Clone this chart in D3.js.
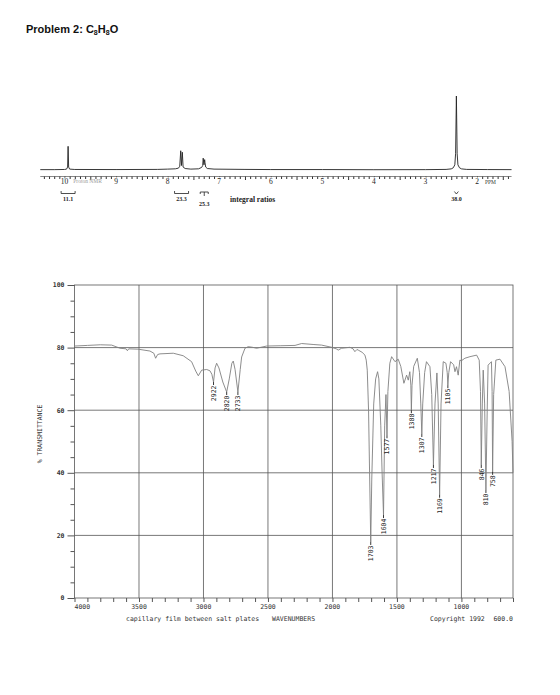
<!DOCTYPE html>
<html>
<head>
<meta charset="utf-8">
<script src="https://cdn.jsdelivr.net/npm/d3@7"></script>
<style>
  body { margin: 0; background: #fff; }
  svg { display: block; }
</style>
</head>
<body>
<svg id="chart" width="560" height="695"></svg>
<script>
// ---- proton NMR trace: [ppm, relative intensity] ----
const nmrTrace = [
  [10.47, 0.5], [10.2, 0.5], [10.0, 0.7], [9.96, 1.2], [9.94, 4], [9.93, 32], [9.92, 4], [9.90, 1.2],
  [9.8, 0.7], [9.0, 0.6], [8.2, 0.8], [8.0, 1.2], [7.85, 1.6], [7.79, 2.5], [7.765, 5],
  [7.746, 26], [7.732, 6], [7.715, 24], [7.70, 4], [7.66, 2], [7.55, 1.2], [7.40, 1.6],
  [7.34, 3.5], [7.32, 6], [7.31, 16], [7.295, 7], [7.282, 14], [7.275, 10], [7.262, 4],
  [7.23, 2], [7.1, 1.2], [6.5, 0.8], [6.0, 0.6], [5.0, 0.6], [4.0, 0.4], [3.0, 0.5],
  [2.6, 0.8], [2.50, 1.5], [2.46, 3], [2.43, 7], [2.415, 22], [2.40, 100], [2.385, 22],
  [2.37, 7], [2.34, 3], [2.30, 1.5], [2.2, 0.8], [1.8, 0.6], [1.33, 0.5]
];
const nmrTickLabels = [10, 9, 8, 7, 6, 5, 4, 3, 2];
// integral ratios: [ppm, text, bracket style]
const integrals = [
  [9.93, "11.1", "cup"],
  [7.73, "23.3", "cup"],
  [7.29, "25.3", "tee"],
  [2.40, "38.0", "vee"]
];

// ---- IR trace: [wavenumber, % transmittance] ----
const irTrace = [
  [4000, 80.5], [3900, 80.7], [3800, 80.9], [3712, 80.8], [3647, 79.8], [3600, 79.6],
  [3590, 79.0], [3580, 79.6], [3508, 79.5], [3415, 78.9], [3385, 78.2], [3371, 76.6],
  [3355, 77.8], [3337, 78.0], [3234, 78.2], [3157, 77.4], [3092, 75.5], [3060, 72.5],
  [3040, 71.0], [3014, 72.8], [2975, 73.0], [2950, 72.6], [2935, 71.5], [2922, 69.0],
  [2910, 73.5], [2898, 75.0], [2880, 73.5], [2850, 69], [2820, 65.8], [2800, 70],
  [2780, 75], [2769, 75.7], [2755, 73], [2733, 65.8], [2715, 73], [2704, 77],
  [2678, 79.8], [2653, 80.3], [2620, 80.1], [2588, 79.8], [2510, 80.5], [2400, 80.6],
  [2290, 80.7], [2239, 81.3], [2150, 81.0], [2084, 80.8], [2006, 80.1], [1970, 79.6],
  [1955, 79.2], [1929, 79.8], [1864, 80.1], [1840, 79.6], [1826, 78.7], [1810, 79.4],
  [1800, 79.2], [1770, 78.5], [1748, 77.6], [1738, 76], [1730, 72.8], [1720, 60],
  [1712, 40], [1703, 17.9], [1695, 38], [1680, 62], [1665, 70], [1650, 72.3],
  [1640, 70], [1625, 55], [1615, 40], [1604, 26.5], [1595, 55], [1585, 65], [1577, 52],
  [1570, 66], [1555, 75], [1541, 77.1], [1515, 75.5], [1490, 76.3], [1470, 74],
  [1446, 68.6], [1425, 71.2], [1412, 69.6], [1400, 72.3], [1392, 68], [1388, 60],
  [1383, 68], [1370, 74], [1342, 76.6], [1325, 72], [1315, 62], [1307, 52.4], [1300, 62],
  [1285, 72], [1271, 75.5], [1244, 73.9], [1230, 65], [1217, 42.5], [1205, 62],
  [1190, 71.9], [1180, 62], [1169, 33], [1158, 62], [1141, 75.5], [1120, 75], [1110, 72],
  [1105, 68], [1098, 72], [1084, 75.5], [1060, 74.5], [1050, 72.3], [1038, 73.9],
  [1025, 71.2], [1012, 76], [1000, 75.8], [973, 76.6], [934, 77.1], [882, 77.6],
  [862, 76], [852, 66], [846, 42.5], [838, 62], [831, 72.8], [820, 62], [810, 34.5],
  [800, 60], [793, 74.4], [767, 75.5], [762, 66], [758, 40.3], [750, 65], [733, 76],
  [701, 76.3], [662, 73.9], [630, 66], [607, 50], [600, 40]
];
// labelled peaks: [wavenumber, % transmittance at the tip]
const irPeaks = [
  [2922, 69.0], [2820, 65.8], [2733, 65.8], [1703, 17.9], [1604, 26.5], [1577, 52],
  [1388, 60], [1307, 52.4], [1217, 42.5], [1169, 33], [1105, 68], [846, 42.5],
  [810, 34.5], [758, 40.3]
];
const irXLabels = [4000, 3500, 3000, 2500, 2000, 1500, 1000];
const irGridX = [3500, 3000, 2500, 2000, 1500, 1000];
const irYLabels = [0, 20, 40, 60, 80, 100];

const svg = d3.select("#chart");
svg.append("rect").attr("width", 560).attr("height", 695).attr("fill", "#fff");

// ---- title ----
const title = svg.append("text")
  .attr("x", 26).attr("y", 33)
  .attr("font-family", "Liberation Sans, Arial, sans-serif")
  .attr("font-weight", "bold").attr("font-size", 11).attr("fill", "#111");
title.append("tspan").text("Problem 2: C");
title.append("tspan").attr("font-size", 7).attr("dy", 2).text("8");
title.append("tspan").attr("dy", -2).text("H");
title.append("tspan").attr("font-size", 7).attr("dy", 2).text("8");
title.append("tspan").attr("dy", -2).text("O");

// ---- NMR ----
const xN = d3.scaleLinear().domain([10, 2]).range([64.5, 477]);
const yN = d3.scaleLinear().domain([0, 100]).range([170, 96]);
const axisY = 176.5;

svg.append("path")
  .datum(nmrTrace)
  .attr("d", d3.line().x(d => xN(d[0])).y(d => yN(d[1])))
  .attr("fill", "none").attr("stroke", "#222").attr("stroke-width", 0.9);

const nmrAxis = d3.axisBottom(xN)
  .tickValues(d3.range(104, 13, -1).map(v => v / 10))
  .tickSize(2.5)
  .tickFormat("");
const gN = svg.append("g").attr("transform", `translate(0,${axisY})`).call(nmrAxis);
gN.select(".domain").attr("d", `M${xN(10.47)},0H${xN(1.33)}`).attr("stroke", "#555").attr("stroke-width", 0.7);
gN.selectAll(".tick line").attr("stroke", "#333").attr("y2", d => (Math.round(d * 10) % 5 === 0 ? 3.5 : 2.5));

svg.append("g").selectAll("text")
  .data(nmrTickLabels)
  .enter().append("text")
  .attr("x", d => xN(d)).attr("y", axisY + 7.5)
  .attr("text-anchor", "middle")
  .attr("font-family", "Liberation Serif, serif").attr("font-size", 7.5).attr("fill", "#222")
  .attr("stroke", "#fff").attr("stroke-width", 1.5).attr("paint-order", "stroke")
  .text(d => d);
svg.append("text").attr("x", xN(2) + 8).attr("y", axisY + 7)
  .attr("font-family", "Liberation Serif, serif").attr("font-size", 5.5).attr("fill", "#333")
  .text("PPM");
svg.append("text").attr("x", xN(9.83)).attr("y", axisY + 6)
  .attr("font-family", "Liberation Serif, serif").attr("font-size", 5.5).attr("fill", "#999")
  .text("Proton NMR");

const integ = svg.append("g")
  .attr("font-family", "Liberation Serif, serif").attr("font-weight", "bold")
  .attr("font-size", 6).attr("fill", "#222").attr("text-anchor", "middle");
integrals.forEach(([ppm, txt, style]) => {
  const cx = xN(ppm);
  let d, ty = 201;
  if (style === "cup") d = `M${cx - 7},191V193.5H${cx + 7}V191`;
  else if (style === "tee") { d = `M${cx - 4},194V192H${cx + 4}V194M${cx},192V196`; ty = 206; }
  else d = `M${cx - 2},191.5L${cx},194L${cx + 2},191.5`;
  integ.append("path").attr("d", d).attr("fill", "none").attr("stroke", "#222").attr("stroke-width", 0.8);
  integ.append("text").attr("x", cx).attr("y", ty).text(txt);
});
svg.append("text").attr("x", 230).attr("y", 202)
  .attr("font-family", "Liberation Serif, serif").attr("font-weight", "bold")
  .attr("font-size", 7.5).attr("fill", "#222")
  .text("integral ratios");

// ---- IR ----
const x = d3.scaleLinear().domain([4000, 600]).range([74.5, 513]);
const y = d3.scaleLinear().domain([0, 100]).range([598, 285]);
const mono = "DejaVu Sans Mono, monospace";

const grid = svg.append("g").attr("stroke", "#555").attr("stroke-width", 0.8);
grid.selectAll(".gx").data(irGridX).enter().append("line")
  .attr("x1", d => x(d)).attr("x2", d => x(d)).attr("y1", y(100)).attr("y2", y(0));
grid.selectAll(".gy").data([20, 40, 60, 80]).enter().append("line")
  .attr("x1", x(4000)).attr("x2", x(600)).attr("y1", d => y(d)).attr("y2", d => y(d));
svg.append("rect")
  .attr("x", x(4000)).attr("y", y(100))
  .attr("width", x(600) - x(4000)).attr("height", y(0) - y(100))
  .attr("fill", "none").attr("stroke", "#555").attr("stroke-width", 0.8);

const xAxis = d3.axisBottom(x).tickValues(d3.range(4000, 599, -100)).tickSize(4).tickFormat("");
const gx = svg.append("g").attr("transform", `translate(0,${y(0)})`).call(xAxis);
gx.select(".domain").remove();
gx.selectAll(".tick line").attr("stroke", "#555");

const yAxis = d3.axisLeft(y).tickValues(d3.range(0, 101, 5)).tickSize(4).tickFormat("");
const gy = svg.append("g").attr("transform", `translate(${x(4000)},0)`).call(yAxis);
gy.select(".domain").remove();
gy.selectAll(".tick line").attr("stroke", "#555")
  .attr("x2", d => (d % 20 === 0 ? -7 : -4));

svg.append("g").selectAll("text").data(irYLabels).enter().append("text")
  .attr("x", 64.5).attr("y", d => y(d) + 2.3)
  .attr("text-anchor", "end").attr("font-family", mono).attr("font-size", 6.5)
  .attr("font-weight", "bold").attr("fill", "#333")
  .text(d => d);

svg.append("g").selectAll("text").data(irXLabels).enter().append("text")
  .attr("x", d => x(d))
  .attr("y", 609)
  .attr("text-anchor", d => (d === 4000 ? "start" : "middle"))
  .attr("font-family", mono).attr("font-size", 6.5).attr("fill", "#333")
  .text(d => d);

svg.append("text").attr("transform", "translate(42,434) rotate(-90)")
  .attr("text-anchor", "middle").attr("font-family", mono).attr("font-size", 6.5).attr("fill", "#333")
  .text("% TRANSMITTANCE");

const foot = svg.append("g").attr("font-family", mono).attr("font-size", 6.5).attr("fill", "#333");
foot.append("text").attr("x", 126).attr("y", 621).text("capillary film between salt plates");
foot.append("text").attr("x", 272).attr("y", 621).text("WAVENUMBERS");
foot.append("text").attr("x", 430).attr("y", 621).text("Copyright 1992");
foot.append("text").attr("x", 513).attr("y", 621).attr("text-anchor", "end").text("600.0");

svg.append("path")
  .datum(irTrace)
  .attr("d", d3.line().x(d => x(d[0])).y(d => y(d[1])))
  .attr("fill", "none").attr("stroke", "#808080").attr("stroke-width", 0.9);

const pk = svg.append("g");
pk.selectAll("line").data(irPeaks).enter().append("line")
  .attr("x1", d => x(d[0])).attr("x2", d => x(d[0]))
  .attr("y1", d => y(d[1])).attr("y2", d => y(d[1]) + 3)
  .attr("stroke", "#222").attr("stroke-width", 0.9);
pk.selectAll("text").data(irPeaks).enter().append("text")
  .attr("transform", d => `translate(${x(d[0])},${y(d[1]) + 3.5}) rotate(-90)`)
  .attr("text-anchor", "end").attr("dy", "0.35em")
  .attr("font-family", mono).attr("font-size", 6.5).attr("fill", "#222")
  .text(d => d[0]);
</script>
</body>
</html>
